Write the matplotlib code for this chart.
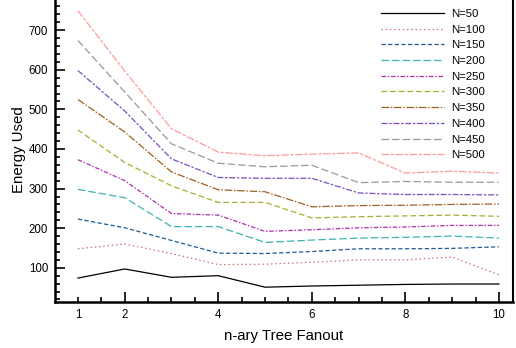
import numpy as np
import matplotlib
matplotlib.use('Agg')
import matplotlib.pyplot as plt
from matplotlib.ticker import MultipleLocator, FixedLocator

plt.rcParams['font.family'] = ['Liberation Sans', 'DejaVu Sans']

# ---- data --------------------------------------------------------------------
fanout = [1, 2, 3, 4, 5, 6, 7, 8, 9, 10]
labels = ['N=50', 'N=100', 'N=150', 'N=200', 'N=250',
          'N=300', 'N=350', 'N=400', 'N=450', 'N=500']
e50  = [74, 97, 76, 80, 51, 54, 56, 58, 59, 59]
e100 = [148, 160, 136, 108, 109, 114, 120, 120, 127, 82]
e150 = [223, 201, 169, 137, 136, 141, 148, 148, 149, 153]
e200 = [298, 277, 204, 204, 164, 170, 175, 177, 180, 175]
e250 = [373, 320, 237, 233, 192, 196, 201, 203, 207, 207]
e300 = [448, 366, 307, 265, 265, 226, 229, 231, 233, 230]
e350 = [525, 443, 342, 297, 292, 254, 257, 258, 260, 261]
e400 = [598, 496, 375, 328, 326, 326, 289, 285, 285, 284]
e450 = [674, 544, 413, 364, 355, 359, 315, 318, 316, 316]
e500 = [749, 597, 451, 392, 383, 387, 390, 339, 344, 339]
series = [e50, e100, e150, e200, e250, e300, e350, e400, e450, e500]

# ---- styles ------------------------------------------------------------------
colors = ['#000000', '#cc7070', '#1f5a96', '#3cb4b4', '#b02cb0',
          '#aaaa30', '#a0601e', '#7a4fc0', '#999999', '#ff9999']
dashes = ['-', (0, (1.2, 2.2)), (0, (3.4, 1.9)), (0, (6, 2.4)),
          (0, (3.6, 1.4, 1.2, 1.4)), (0, (4.5, 2.4)), (0, (6, 1.4, 1.2, 1.4)),
          (0, (4.8, 1.4, 1.9, 1.4)), (0, (6, 2.4)), (0, (6, 1.4, 2.4, 1.4))]

fig = plt.figure(figsize=(5.16, 3.48), dpi=100)
ax = fig.add_axes([55 / 516, 46 / 348, 458 / 516, 1.0 - 46 / 348 + 0.01])

for y, lab, c, ls in zip(series, labels, colors, dashes):
    ax.plot(fanout, y, color=c, linestyle=ls, lw=0.9, label=lab)

ax.set_xlim(0.51, 10.3)
ax.set_ylim(13.6, 785)

ax.xaxis.set_major_locator(FixedLocator([1, 2, 4, 6, 8, 10]))
ax.xaxis.set_minor_locator(MultipleLocator(0.5))
ax.yaxis.set_major_locator(MultipleLocator(100))
ax.yaxis.set_minor_locator(MultipleLocator(20))
ax.tick_params(which='both', direction='in', top=False, right=False,
               labelsize=8.3, width=1.2, pad=5)
ax.tick_params(which='major', length=7)
ax.tick_params(which='minor', length=3.5)
ax.xaxis.get_major_ticks()[0].tick1line.set_markersize(3.5)

for s in ['left', 'bottom']:
    ax.spines[s].set_linewidth(1.8)
ax.spines['right'].set_linewidth(1.5)
ax.spines['top'].set_visible(False)

ax.set_xlabel('n-ary Tree Fanout', fontsize=10.8, labelpad=6)
fig.text(19 / 516, 1 - 150 / 348, 'Energy Used', rotation=90,
         ha='center', va='center', fontsize=10.8)

ax.legend(loc='upper left', bbox_to_anchor=(381 / 516, 1 - 9 / 348),
          bbox_transform=fig.transFigure, frameon=False, fontsize=8.2,
          handlelength=5.5, handletextpad=0.7, labelspacing=0.5,
          borderpad=0, borderaxespad=0)

fig.savefig('out.png', dpi=100)
